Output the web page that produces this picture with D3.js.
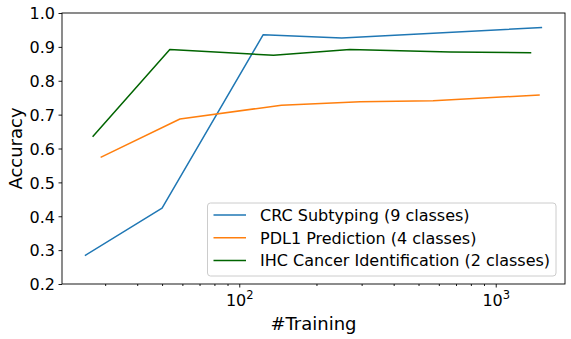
<html>
<head>
<meta charset="utf-8">
<style>
  body { margin: 0; background: #fff; }
  text { font-family: "DejaVu Sans", sans-serif; fill: #000; }
</style>
</head>
<body>
<script src="https://cdnjs.cloudflare.com/ajax/libs/d3/7.8.5/d3.min.js"></script>
<script>
// data
var crcTrain = [25, 50, 124, 251, 1517];
var crcAcc   = [0.284, 0.424, 0.936, 0.926, 0.957];
var pdlTrain = [28.8, 58.7, 146, 296, 570, 1485];
var pdlAcc   = [0.574, 0.687, 0.728, 0.738, 0.741, 0.758];
var ihcTrain = [26.8, 53.6, 136, 270, 664, 1376];
var ihcAcc   = [0.635, 0.892, 0.875, 0.892, 0.885, 0.883];
var seriesNames = ["CRC Subtyping (9 classes)", "PDL1 Prediction (4 classes)", "IHC Cancer Identification (2 classes)"];
var seriesColors = ["#1f77b4", "#ff7f0e", "#006400"];
var yTicks = [0.2, 0.3, 0.4, 0.5, 0.6, 0.7, 0.8, 0.9, 1.0];
var xMajor = [100, 1000];
var xMinor = [30, 40, 50, 60, 70, 80, 90, 200, 300, 400, 500, 600, 700, 800, 900];

function drawChart(){
	var W = 571, H = 339;
	var m = {left: 62, top: 13, right: 6, bottom: 55};
	var svg = d3.select("body").append("svg")
				.attr("width", W)
				.attr("height", H);

	var series = [
		{name: seriesNames[0], color: seriesColors[0], xs: crcTrain, ys: crcAcc},
		{name: seriesNames[1], color: seriesColors[1], xs: pdlTrain, ys: pdlAcc},
		{name: seriesNames[2], color: seriesColors[2], xs: ihcTrain, ys: ihcAcc}
	];

	// matplotlib style 5% margin in log space
	var allX = crcTrain.concat(pdlTrain, ihcTrain);
	var lmin = Math.log10(d3.min(allX)), lmax = Math.log10(d3.max(allX));
	var pad = (lmax - lmin) * 0.05;
	var x = d3.scaleLog()
			.domain([Math.pow(10, lmin - pad), Math.pow(10, lmax + pad)])
			.range([m.left, W - m.right]);
	var y = d3.scaleLinear()
			.domain([0.2, 1.0])
			.range([H - m.bottom, m.top]);

	var line = d3.line()
				.x(function(d){ return x(d[0]); })
				.y(function(d){ return y(d[1]); });

	series.forEach(function(s){
		svg.append("path")
			.datum(d3.zip(s.xs, s.ys))
			.attr("d", line)
			.style("fill", "none")
			.style("stroke", s.color)
			.style("stroke-width", "1.5px")
			.style("stroke-linejoin", "round");
	});

	// frame
	svg.append("rect")
		.attr("x", m.left)
		.attr("y", m.top)
		.attr("width", W - m.right - m.left)
		.attr("height", H - m.bottom - m.top)
		.style("fill", "none")
		.style("stroke", "#000")
		.style("stroke-width", "0.9px");

	// y axis
	var yAxis = svg.append("g")
		.attr("transform", "translate(" + m.left + ",0)")
		.call(d3.axisLeft(y).tickValues(yTicks).tickFormat(d3.format(".1f"))
			.tickSize(3.5).tickPadding(3.5).tickSizeOuter(0));
	yAxis.select(".domain").remove();
	yAxis.selectAll("text").style("font-size", "16px").style("font-family", "DejaVu Sans").attr("dy", "0.36em");

	// x axis, minor ticks first
	var xMinorAxis = svg.append("g")
		.attr("transform", "translate(0," + (H - m.bottom) + ")")
		.call(d3.axisBottom(x).tickValues(xMinor).tickFormat("").tickSize(2).tickSizeOuter(0));
	xMinorAxis.select(".domain").remove();

	var xAxis = svg.append("g")
		.attr("transform", "translate(0," + (H - m.bottom) + ")")
		.call(d3.axisBottom(x).tickValues(xMajor).tickFormat("").tickSize(3.5).tickSizeOuter(0));
	xAxis.select(".domain").remove();
	xAxis.selectAll(".tick").each(function(d){
		var t = d3.select(this).append("text")
			.attr("y", 22)
			.attr("text-anchor", "middle")
			.style("font-size", "16px")
			.style("fill", "#000");
		t.append("tspan").text("10");
		t.append("tspan").attr("dy", "-7").style("font-size", "11.5px").text(Math.round(Math.log10(d)));
	});

	svg.selectAll(".tick line").style("stroke", "#000").style("stroke-width", "0.9px");

	// axis titles
	svg.append("text")
		.attr("x", (m.left + W - m.right) / 2)
		.attr("y", 330)
		.attr("text-anchor", "middle")
		.style("font-size", "18px")
		.text("#Training");
	svg.append("text")
		.attr("transform", "translate(22," + ((m.top + H - m.bottom) / 2) + ") rotate(-90)")
		.attr("text-anchor", "middle")
		.style("font-size", "18px")
		.text("Accuracy");

	// legend
	var lg = svg.append("g").attr("transform", "translate(207.5,203)");
	lg.append("rect")
		.attr("width", 348.5)
		.attr("height", 73)
		.attr("rx", 3)
		.style("fill", "#fff")
		.style("fill-opacity", 0.8)
		.style("stroke", "#ccc")
		.style("stroke-width", "1px");
	series.forEach(function(s, i){
		var yy = 12 + i * 22.8;
		lg.append("line")
			.attr("x1", 6).attr("x2", 38.5)
			.attr("y1", yy).attr("y2", yy)
			.style("stroke", s.color)
			.style("stroke-width", "1.5px");
		lg.append("text")
			.attr("x", 52.5)
			.attr("y", yy)
			.attr("dy", "0.36em")
			.style("font-size", "16px")
			.text(s.name);
	});
}
drawChart();
</script>
</body>
</html>
